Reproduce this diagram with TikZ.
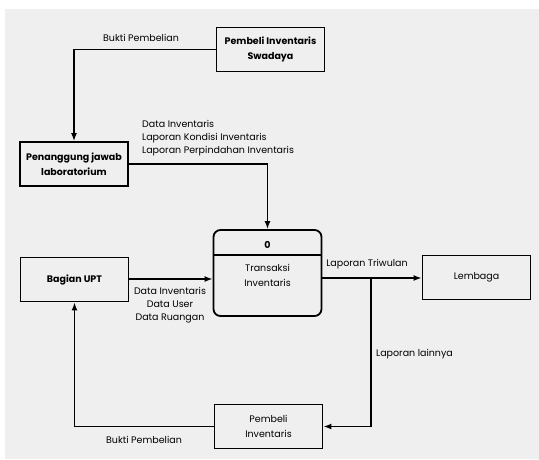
\documentclass[tikz,border=0pt]{standalone}
\usepackage{fontspec}
\setmainfont{Poppins}
\usetikzlibrary{arrows.meta,calc}
\definecolor{bg}{HTML}{EFEFEF}
\begin{document}
\begin{tikzpicture}[x=1pt,y=-1pt,
  ent/.style={draw=black,line width=1.8pt,fill=bg,minimum width=108pt,minimum height=44pt,inner sep=0pt,align=center,font=\fontsize{9.5}{15}\selectfont},
  entb/.style={ent,font=\fontsize{9.5}{15}\selectfont\bfseries},
  lbl/.style={font=\fontsize{9.5}{13}\selectfont,inner sep=0pt},
  arr/.style={line width=1.7pt,-{Latex[length=8pt,width=6pt]}}]
\useasboundingbox (0,0) rectangle (539,459);
\fill[bg] (5,9) rectangle (539,459);
\node[entb] (swa) at (270.5,49.5) {Pembeli Inventaris\\Swadaya};
\node[entb] (pj) at (74,164) {Penanggung jawab\\laboratorium};
\node[entb] (upt) at (74.5,279.5) {Bagian UPT};
\node[ent] (lem) at (476.5,277.5) {Lembaga};
\node[ent] (pem) at (268.5,426.5) {Pembeli\\Inventaris};
\node[ent,rounded corners=7pt,minimum height=86pt] (trans) at (267.5,273) {};
\draw[line width=1.7pt] ($(trans.north west)+(0,26)$) coordinate (dl) -- (dl -| trans.east);
\node[lbl,font=\fontsize{9.5}{13}\selectfont\bfseries] (zero) at (267.5,245) {0};
\node[lbl,align=center,font=\fontsize{9.5}{15}\selectfont] (ttxt) at (267.5,275.5) {Transaksi\\Inventaris};
% connectors
\draw[arr] (swa.west) -| (pj.north);
\draw[arr] (pj.east) -| (trans.north);
\draw[arr] (upt.east |- 0,279) -- (trans.west |- 0,279);
\draw[arr] (trans.east |- 0,278) -- (lem.west |- 0,278);
\coordinate (j) at (371,278);
\draw[arr] (j) |- (pem.east);
\draw[arr] (pem.west) -| (upt.south);
% labels
\node[lbl] (l1) at (141,38) {Bukti Pembelian};
\node[lbl,anchor=west,align=left] (l2) at (142,138) {Data Inventaris\\Laporan Kondisi Inventaris\\Laporan Perpindahan Inventaris};
\node[lbl,align=center] (l3) at (170,305) {Data Inventaris\\Data User\\Data Ruangan};
\node[lbl] (l4) at (367,264) {Laporan Triwulan};
\node[lbl,anchor=west] (l5) at (376,354) {Laporan lainnya};
\node[lbl] (l6) at (144,440) {Bukti Pembelian};
\end{tikzpicture}
\end{document}
